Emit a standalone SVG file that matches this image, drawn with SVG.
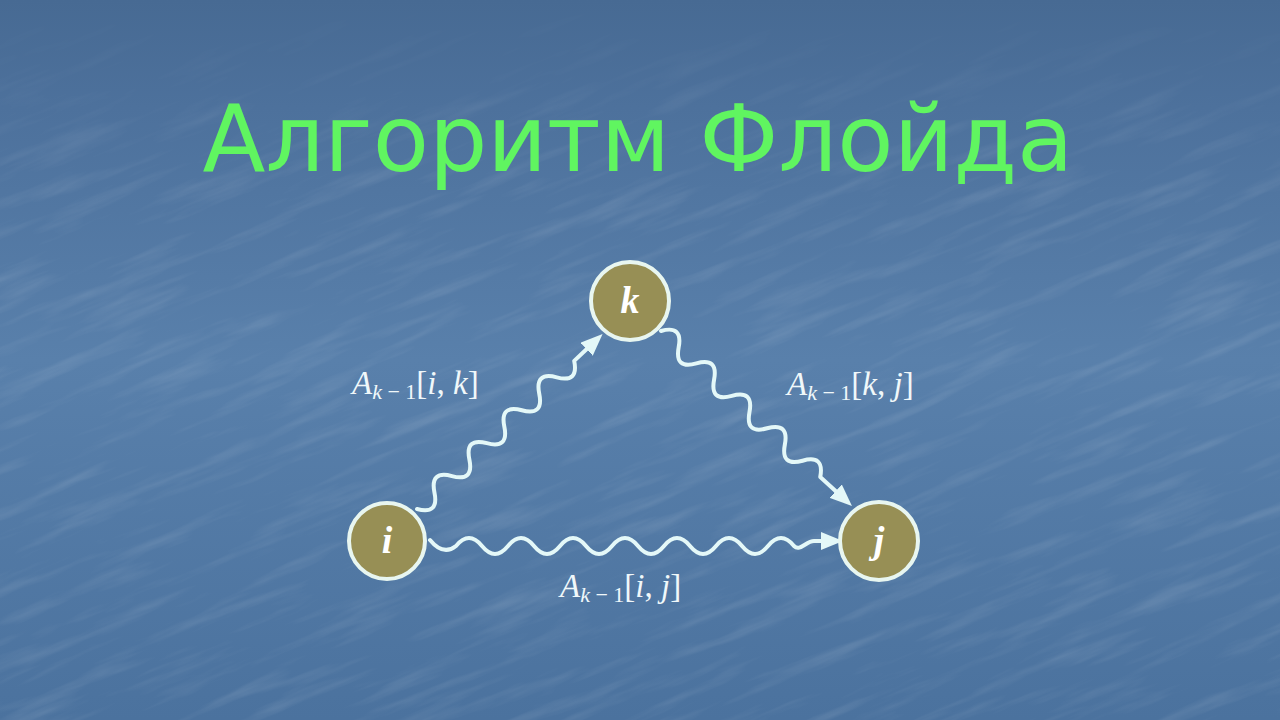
<svg xmlns="http://www.w3.org/2000/svg" width="1280" height="720" viewBox="0 0 1280 720">
<defs>
<linearGradient id="bg" x1="0" y1="0" x2="0" y2="1">
<stop offset="0" stop-color="#476a93"/>
<stop offset="0.15" stop-color="#4d719c"/>
<stop offset="0.5" stop-color="#5980ab"/>
<stop offset="1" stop-color="#4b729e"/>
</linearGradient>
<linearGradient id="fade" x1="0" y1="0" x2="0" y2="1">
<stop offset="0" stop-color="#ffffff" stop-opacity="0"/>
<stop offset="0.3" stop-color="#ffffff" stop-opacity="1"/>
<stop offset="1" stop-color="#ffffff" stop-opacity="1"/>
</linearGradient>
<mask id="m"><rect width="1280" height="720" fill="url(#fade)"/></mask>
<filter id="tex" x="0" y="0" width="100%" height="100%">
<feTurbulence type="fractalNoise" baseFrequency="0.008 0.07" numOctaves="4" seed="7" result="n"/>
<feColorMatrix in="n" type="matrix" values="0 0 0 0 1  0 0 0 0 1  0 0 0 0 1  0 0 0 1.6 -0.8" result="w"/>
<feComposite in="w" in2="SourceGraphic" operator="in"/>
</filter>
<marker id="arr" markerUnits="userSpaceOnUse" viewBox="0 0 22 18" refX="5" refY="9" markerWidth="22" markerHeight="18" orient="auto">
<path d="M0,0 L22,9 L0,18 z" fill="#e4f8f8"/>
</marker>
<style>
.edge{fill:none;stroke:#e4f8f8;stroke-width:4;stroke-linecap:round;stroke-linejoin:round}
.node circle{fill:#978f55;stroke:#e8f6f0;stroke-width:4}
.node text{font-family:"Liberation Serif",serif;font-style:italic;font-weight:bold;font-size:38px;fill:#ffffff;text-anchor:middle}
.lbl{font-family:"Liberation Serif",serif;font-style:italic;font-size:33px;fill:#f0f8fa}
.up{font-style:normal}
.sub{font-size:22px}
.title{font-family:"DejaVu Sans",sans-serif;font-size:92px;fill:#60f560;text-anchor:middle}
</style>
</defs>
<rect width="1280" height="720" fill="url(#bg)"/>
<g opacity="0.16" mask="url(#m)">
<rect x="-400" y="-400" width="2100" height="1500" fill="#ffffff" filter="url(#tex)" transform="rotate(-22 640 360)"/>
</g>
<text class="title" x="638" y="171">Алгоритм Флойда</text>
<g id="connectors">
<path class="edge" marker-end="url(#arr)" d="M430,540 c9,11 17.3,13 26,6 c8.7,-10.6 17.3,-10.6 26,0 c8.7,10.6 17.3,10.6 26,0 c8.7,-10.6 17.3,-10.6 26,0 c8.7,10.6 17.3,10.6 26,0 c8.7,-10.6 17.3,-10.6 26,0 c8.7,10.6 17.3,10.6 26,0 c8.7,-10.6 17.3,-10.6 26,0 c8.7,10.6 17.3,10.6 26,0 c8.7,-10.6 17.3,-10.6 26,0 c8.7,10.6 17.3,10.6 26,0 c8.7,-10.6 17.3,-10.6 26,0 c8.7,10.6 17.3,10.6 26,0 c8.7,-10.6 17.3,-10.6 26,0 c6,6 12,-5 20,-5 L826,541"/>
<path class="edge" marker-end="url(#arr)" transform="translate(417,509) rotate(-43.3)" d="M0,0 c8,13 16,13 24,0 c8,-13 16,-13 24,0 c8,13 16,13 24,0 c8,-13 16,-13 24,0 c8,13 16,13 24,0 c8,-13 16,-13 24,0 c8,13 16,13 24,0 c8,-13 16,-13 24,0 c8,13 16,13 24,0 L238,0"/>
<path class="edge" marker-end="url(#arr)" transform="translate(661,331) rotate(42.5)" d="M0,0 c8,-13 16,-13 24,0 c8,13 16,13 24,0 c8,-13 16,-13 24,0 c8,13 16,13 24,0 c8,-13 16,-13 24,0 c8,13 16,13 24,0 c8,-13 16,-13 24,0 c8,13 16,13 24,0 c8,-13 16,-13 24,0 L242,0"/>
</g>
<g id="node-i" class="node"><circle cx="387" cy="541" r="38"/><text x="387" y="553">i</text></g>
<g id="node-k" class="node"><circle cx="630" cy="301" r="39"/><text x="630" y="313">k</text></g>
<g id="node-j" class="node"><circle cx="879" cy="541" r="39"/><text x="879" y="553">j</text></g>
<g id="labels">
<text class="lbl" x="352" y="394">A<tspan class="sub" dy="5">k <tspan class="up">− 1</tspan></tspan><tspan class="up" dy="-5">[</tspan>i<tspan class="up">, </tspan>k<tspan class="up">]</tspan></text>
<text class="lbl" x="787" y="395">A<tspan class="sub" dy="5">k <tspan class="up">− 1</tspan></tspan><tspan class="up" dy="-5">[</tspan>k<tspan class="up">, </tspan>j<tspan class="up">]</tspan></text>
<text class="lbl" x="560" y="597">A<tspan class="sub" dy="5">k <tspan class="up">− 1</tspan></tspan><tspan class="up" dy="-5">[</tspan>i<tspan class="up">, </tspan>j<tspan class="up">]</tspan></text>
</g>
</svg>
